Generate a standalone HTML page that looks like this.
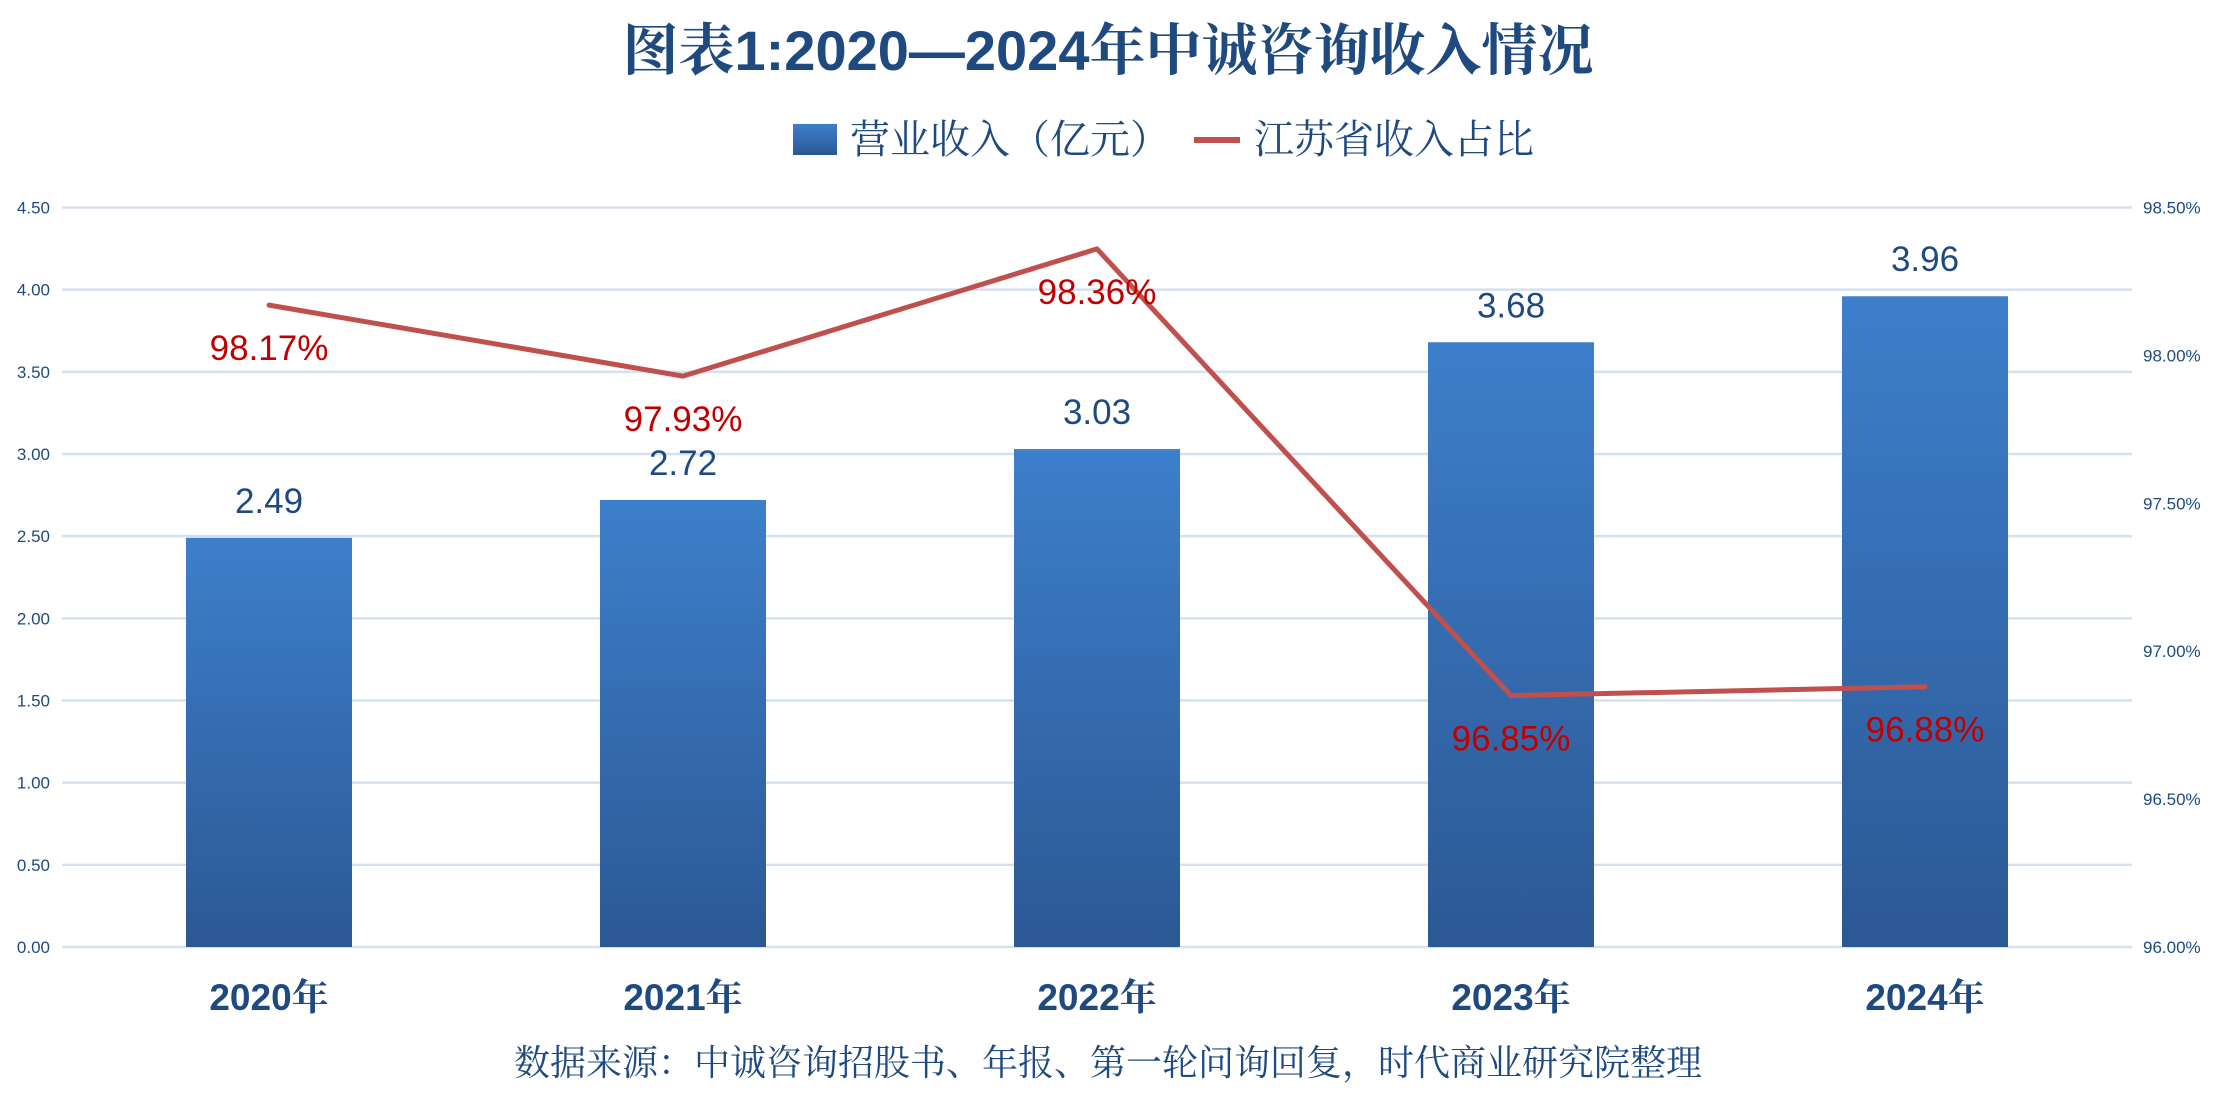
<!DOCTYPE html>
<html><head><meta charset="utf-8"><style>
html,body{margin:0;padding:0;background:#fff;}
svg{display:block;}
</style></head><body>
<svg id="chart" width="2214" height="1107" viewBox="0 0 2214 1107" xmlns="http://www.w3.org/2000/svg">
<defs>
<linearGradient id="barg" x1="0" y1="0" x2="0" y2="1">
<stop offset="0" stop-color="#3d7fcb"/>
<stop offset="1" stop-color="#2c5894"/>
</linearGradient>
</defs>
<text x="1108" y="70" text-anchor="middle" font-family="Liberation Sans, Noto Serif CJK SC, serif" font-weight="bold" font-size="56" fill="#1f4a80">图表1:2020—2024年中诚咨询收入情况</text>
<g>
<rect x="793" y="124" width="44" height="31" fill="url(#barg)"/>
<text x="850" y="153" font-family="Noto Serif CJK SC, serif" font-size="40" fill="#1f4a80">营业收入（亿元）</text>
<rect x="1194" y="137" width="46" height="6" fill="#c0504d"/>
<text x="1254" y="153" font-family="Noto Serif CJK SC, serif" font-size="40" fill="#1f4a80">江苏省收入占比</text>
</g>
<g id="grid"></g>
<g id="bars"></g>
<g id="line"></g>
<text x="1108" y="1075" text-anchor="middle" font-family="Noto Serif CJK SC, serif" font-size="36" fill="#1f4a80">数据来源：中诚咨询招股书、年报、第一轮问询回复，时代商业研究院整理</text>
</svg>
<script>
const categories = ["2020年","2021年","2022年","2023年","2024年"];
const revenue = [2.49, 2.72, 3.03, 3.68, 3.96];
const share = [98.17, 97.93, 98.36, 96.85, 96.88];
const leftTicks = ["0.00","0.50","1.00","1.50","2.00","2.50","3.00","3.50","4.00","4.50"];
const rightTicks = ["96.00%","96.50%","97.00%","97.50%","98.00%","98.50%"];

const NS="http://www.w3.org/2000/svg";
const L=62,R=2132,T=207.5,B=947;
const yL=v=>B-(v/4.5)*(B-T);
const yR=v=>B-((v-96)/2.5)*(B-T);
const band=(R-L)/categories.length;
const xC=i=>L+band*(i+0.5);
function mk(tag,attrs,parent,text){const e=document.createElementNS(NS,tag);for(const k in attrs)e.setAttribute(k,attrs[k]);if(text!==undefined)e.textContent=text;parent.appendChild(e);return e;}
const grid=document.getElementById('grid');
leftTicks.forEach(t=>{const y=yL(parseFloat(t));
const ln=mk('line',{x1:L,x2:R,y1:y,y2:y,stroke:'#d5e1f1','stroke-width':2.5},grid);


const tx=mk('text',{x:50,y:y+6,'text-anchor':'end','font-family':'Liberation Sans, sans-serif','font-size':17,fill:'#1f4a80'},grid,t);

});
rightTicks.forEach(t=>{const y=yR(parseFloat(t));
const tx=mk('text',{x:2143,y:y+6,'font-family':'Liberation Sans, sans-serif','font-size':17,fill:'#1f4a80'},grid,t);

});
const bars=document.getElementById('bars');
const bw=166;
categories.forEach((c,i)=>{const x=xC(i),y=yL(revenue[i]);
const r=mk('rect',{x:x-bw/2,y:y,width:bw,height:B-y,fill:'url(#barg)'},bars);


const v=mk('text',{x:x,y:y-25,'text-anchor':'middle','font-family':'Liberation Sans, sans-serif','font-size':35,fill:'#1f4a80'},bars,revenue[i].toFixed(2));


const cl=mk('text',{x:x,y:1010,'text-anchor':'middle','font-family':'Liberation Sans, Noto Serif CJK SC, sans-serif','font-weight':'bold','font-size':37,fill:'#1f4a80'},bars,c);

});
const lg=document.getElementById('line');
const pts=share.map((v,i)=>xC(i)+','+yR(v)).join(' ');
const pl=mk('polyline',{points:pts,fill:'none',stroke:'#c0504d','stroke-width':5,'stroke-linejoin':'round','stroke-linecap':'round'},lg);


share.forEach((v,i)=>{const t=mk('text',{x:xC(i),y:yR(v)+55,'text-anchor':'middle','font-family':'Liberation Sans, sans-serif','font-size':35,fill:'#c00000'},lg,v.toFixed(2)+'%');

});
</script>
</body></html>
